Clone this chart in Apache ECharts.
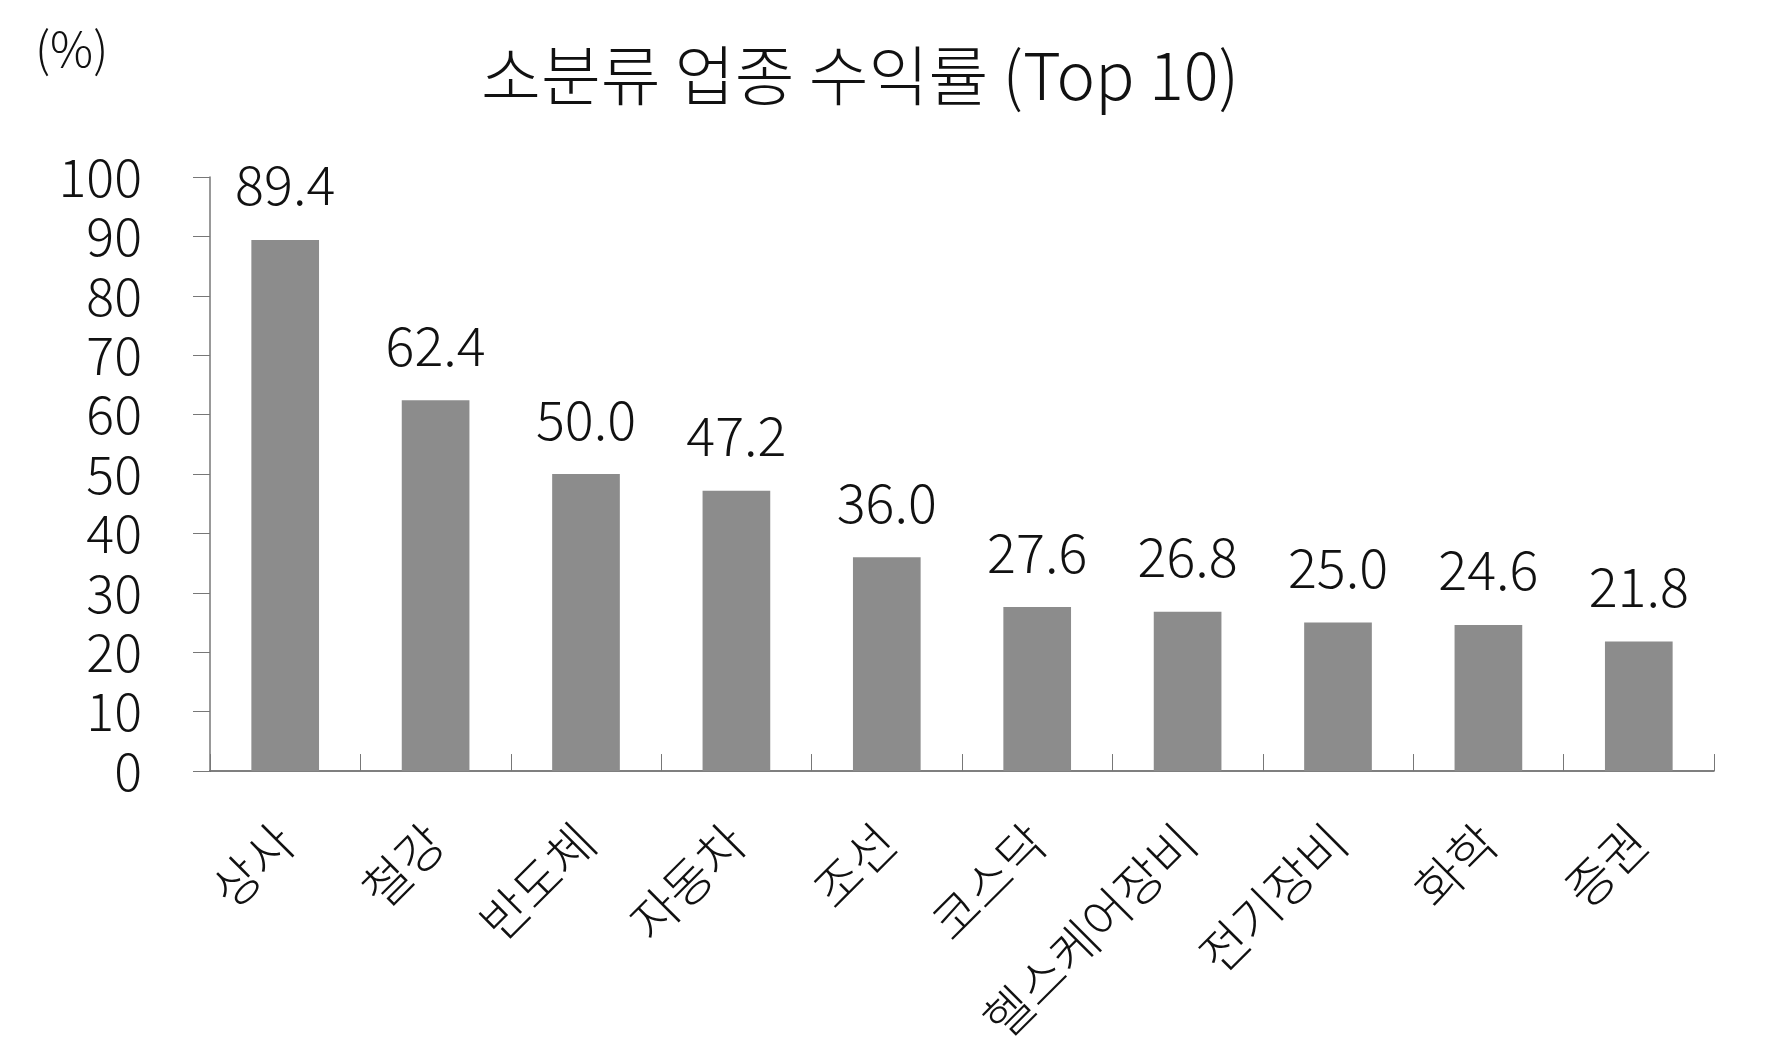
<!DOCTYPE html><html><head><meta charset="utf-8"><script src="https://cdn.jsdelivr.net/npm/echarts@6/dist/echarts.min.js"></script>
<style>html,body{margin:0;background:#fff}#c{width:1773px;height:1048px}</style></head><body><div id="c"></div><script>
const categories=['상사','철강','반도체','자동차','조선','코스닥','헬스케어장비','전기장비','화학','증권'];
const values=[89.4,62.4,50.0,47.2,36.0,27.6,26.8,25.0,24.6,21.8];
const F='"Noto Sans CJK KR"';
const ch=echarts.init(document.getElementById('c'));
ch.setOption({
 animation:false,
 title:[{text:'소분류 업종 수익률 (Top 10)',top:38,left:855,textAlign:'center',textStyle:{fontFamily:F,fontWeight:300,fontSize:65,color:'#111'}},
  {text:'(%)',left:30,top:20,textStyle:{fontFamily:F,fontWeight:300,fontSize:48,color:'#111'}}],
 grid:{left:210,right:59,top:177,bottom:276},
 xAxis:{type:'category',data:categories,axisLine:{lineStyle:{color:'#555',width:1.5}},
  axisTick:{show:true,length:17,inside:true,lineStyle:{color:'#777'}},
  axisLabel:{rotate:45,fontFamily:F,fontWeight:300,fontSize:50,color:'#111',margin:62,interval:0}},
 yAxis:{type:'value',min:0,max:100,interval:10,splitLine:{show:false},
  axisLine:{show:true,lineStyle:{color:'#777',width:1.5}},axisTick:{show:true,length:17,lineStyle:{color:'#777'}},
  axisLabel:{fontFamily:F,fontWeight:300,fontSize:52,color:'#111',margin:68}},
 series:[{type:'bar',data:values,barWidth:'45%',itemStyle:{color:'#8c8c8c'},
  label:{show:true,position:'top',distance:28,formatter:p=>p.value.toFixed(1),fontFamily:F,fontWeight:300,fontSize:54,color:'#111'}}]
});
</script></body></html>
